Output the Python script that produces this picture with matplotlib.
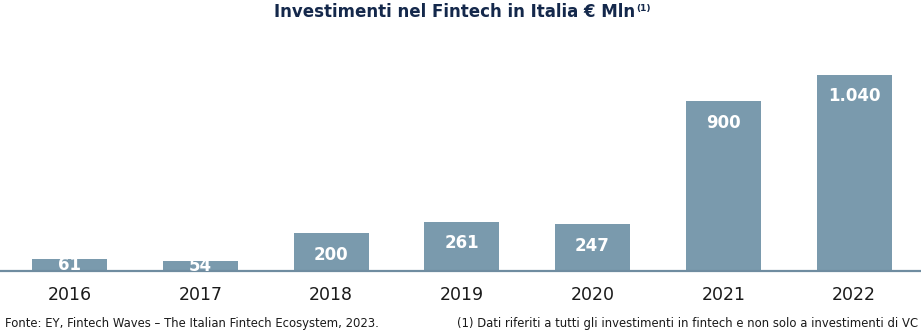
import matplotlib
matplotlib.use("Agg")
import matplotlib.pyplot as plt

plt.rcParams['font.family'] = ['DejaVu Sans']

years = ["2016", "2017", "2018", "2019", "2020", "2021", "2022"]
values = [61, 54, 200, 261, 247, 900, 1040]
value_labels = ["61", "54", "200", "261", "247", "900", "1.040"]

title = "Investimenti nel Fintech in Italia € Mln"
title_sup = "(1)"
source = "Fonte: EY, Fintech Waves – The Italian Fintech Ecosystem, 2023."
note = "(1) Dati riferiti a tutti gli investimenti in fintech e non solo a investimenti di VC"

bar_color = "#7a9aad"
axis_color = "#6f8ca0"
title_color = "#14284b"
text_color = "#1a1a1a"

W, H = 921, 332
fig = plt.figure(figsize=(W / 100, H / 100), dpi=100)

# axes: bottom at the baseline (y=271 px), top near y=30 px
ax_bottom = (H - 271) / H
ax_top = (H - 30) / H
ax = fig.add_axes([0, ax_bottom, 1, ax_top - ax_bottom])

x = list(range(len(years)))
ax.bar(x, values, width=0.574, color=bar_color, zorder=2)
ax.set_xlim(-0.532, 6.512)
ax.set_ylim(0, 1278)

for s in ["top", "right", "left"]:
    ax.spines[s].set_visible(False)
ax.spines["bottom"].set_color(axis_color)
ax.spines["bottom"].set_linewidth(1.6)
ax.set_yticks([])
ax.set_xticks(x)
ax.set_xticklabels(years, fontsize=12.5, color=text_color)
ax.tick_params(axis="x", length=0, pad=11)

# value labels inside the bars, ~21.5 px below the top (centred in very short bars)
px_per_unit = (271 - 30) / 1278
offset_units = 21.5 / px_per_unit
for xi, v, lab in zip(x, values, value_labels):
    y = v - offset_units if v - offset_units > 0 else v / 2
    ax.text(xi, y, lab, ha="center", va="center", color="white",
            fontsize=12, fontweight="bold", zorder=3)

t = fig.text(455 / W, 1 - 12 / H, title, ha="center", va="center",
             fontsize=12, fontweight="bold", color=title_color)
fig.canvas.draw()
bb = t.get_window_extent()
fig.text((bb.x1 + 1) / W, (bb.y1 - 1) / H, title_sup, ha="left", va="top",
         fontsize=6.5, fontweight="bold", color=title_color)

fig.text(5 / W, 1 - 324 / H, source, ha="left", va="center",
         fontsize=8.35, color=text_color)
fig.text(918 / W, 1 - 324 / H, note, ha="right", va="center",
         fontsize=8.35, color=text_color)

fig.savefig("out.png", dpi=100)
